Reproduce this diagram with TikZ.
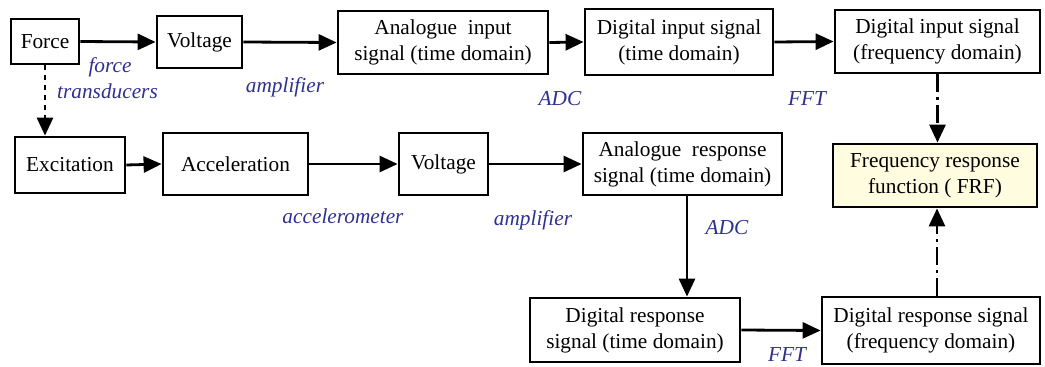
\documentclass[tikz,border=0pt]{standalone}
\usepackage{fontspec}
\setmainfont{Liberation Serif}
\usetikzlibrary{arrows.meta,calc}
\definecolor{lblblue}{RGB}{46,49,146}
\definecolor{frffill}{RGB}{255,252,224}
\begin{document}
\begin{tikzpicture}[x=1pt,y=-1pt,
  box/.style={draw=black,line width=2.8pt,fill=white,align=center,inner sep=2pt,
    font=\fontsize{21.3}{26}\selectfont},
  arr/.style={line width=2.8pt,-{Triangle[length=18pt,width=16pt]}},
  dotarr/.style={arr,dash pattern=on 5pt off 5pt},
  dasharr/.style={arr,dash pattern=on 18pt off 5pt on 3pt off 5pt},
  lbl/.style={text=lblblue,font=\fontsize{21.3}{24}\selectfont\itshape,inner sep=0pt}]
\useasboundingbox (0,0) rectangle (1045,367);
% top row
\node[box,minimum width=68pt,minimum height=45pt] (force) at (45,41.5) {Force};
\node[box,minimum width=85pt,minimum height=52pt] (volt1) at (199.5,42) {Voltage};
\node[box,minimum width=210pt,minimum height=63pt] (anain) at (443,42.5) {Analogue\ \ input\\signal (time domain)};
\node[box,minimum width=188pt,minimum height=66pt] (digin) at (679,42) {Digital input signal\\(time domain)};
\node[box,minimum width=205pt,minimum height=63pt] (diginf) at (937.5,41.5) {Digital input signal\\(frequency domain)};
\node[box,fill=frffill,minimum width=204pt,minimum height=63pt] (frf) at (935,175.5) {Frequency response\\function ( FRF)};
% middle row
\node[box,minimum width=110pt,minimum height=56pt] (excit) at (70,165) {Excitation};
\node[box,minimum width=145pt,minimum height=62pt] (accel) at (235.5,164) {Acceleration};
\node[box,minimum width=89pt,minimum height=62pt] (volt2) at (443.5,164) {Voltage};
\node[box,minimum width=199pt,minimum height=62pt] (anaresp) at (682.5,164) {Analogue\ \ response\\signal (time domain)};
% bottom row
\node[box,minimum width=210pt,minimum height=64pt] (digresp) at (635,330) {Digital response\\signal (time domain)};
\node[box,minimum width=218pt,minimum height=67pt] (digrespf) at (931,330.5) {Digital response signal\\(frequency domain)};
% connectors
\draw[arr] (force.east) -- (volt1.west);
\draw[arr] (volt1.east) -- (anain.west);
\draw[arr] (anain.east) -- (digin.west);
\draw[arr] (digin.east) -- (diginf.west);
\draw[dasharr] (diginf.south) -- (diginf.south |- frf.north);
\draw[dotarr] (force.south) -- (force.south |- excit.north);
\draw[arr] (excit.east) -- (accel.west);
\draw[arr] (accel.east) -- (volt2.west);
\draw[arr] (volt2.east) -- (anaresp.west);
\coordinate (adcstart) at ([xshift=4.5pt]anaresp.south);
\draw[arr] (adcstart) -- (adcstart |- digresp.north);
\draw[arr] (digresp.east) -- (digrespf.west);
\coordinate (fftstart) at ([xshift=6pt]digrespf.north);
\draw[dasharr] (fftstart) -- (fftstart |- frf.south);
% labels
\node[lbl] (lforce) at (110,67) {force};
\node[lbl] (ltrans) at (107.5,91) {transducers};
\node[lbl] (lamp1) at (285,87) {amplifier};
\node[lbl] (ladc1) at (560,99) {ADC};
\node[lbl] (lfft1) at (807,99) {FFT};
\node[lbl] (lacc) at (343,216) {accelerometer};
\node[lbl] (lamp2) at (533,220) {amplifier};
\node[lbl] (ladc2) at (727,228) {ADC};
\node[lbl] (lfft2) at (787,355) {FFT};
\end{tikzpicture}
\end{document}
